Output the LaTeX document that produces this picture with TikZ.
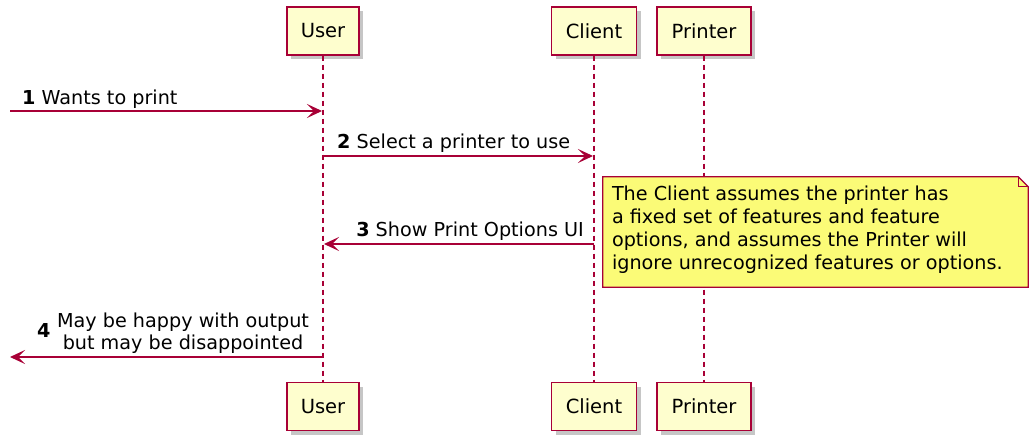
\documentclass[tikz,border=0pt]{standalone}
\usepackage{fontspec}
\setmainfont{DejaVu Sans}
\usetikzlibrary{arrows.meta,shadows}
\definecolor{pborder}{HTML}{A80036}
\definecolor{pfill}{HTML}{FEFECE}
\definecolor{nfill}{HTML}{FBFB77}
\definecolor{shadowc}{HTML}{B8B8B8}
\begin{document}
\begin{tikzpicture}[x=1pt,y=-1pt,
  participant/.style={draw=pborder, fill=pfill, line width=1.3pt, minimum height=48pt, inner sep=0pt,
     font=\fontsize{19.5}{22}\selectfont,
     drop shadow={shadow xshift=4pt, shadow yshift=-4pt, fill=shadowc, opacity=0.8}},
  lifeline/.style={draw=pborder, line width=1.1pt, dash pattern=on 5pt off 4pt},
  msg/.style={draw=pborder, line width=1.2pt, -{Stealth[length=15pt,width=14pt,inset=7pt]}},
  msglabel/.style={inner sep=0pt, font=\fontsize{19.2}{22}\selectfont},
  notetext/.style={inner sep=0pt, align=left, font=\fontsize{19.2}{23}\selectfont}
]
\useasboundingbox (0,0) rectangle (1030,436);
\fill[white] (0,0) rectangle (1030,436);

% participants
\node[participant, minimum width=72pt] (uT) at (323,31) {User};
\node[participant, minimum width=85pt] (cT) at (594,31) {Client};
\node[participant, minimum width=94pt] (pT) at (704,31) {Printer};
\node[participant, minimum width=72pt] (uB) at (323,406.5) {User};
\node[participant, minimum width=85pt] (cB) at (594,406.5) {Client};
\node[participant, minimum width=94pt] (pB) at (704,406.5) {Printer};

% lifelines
\draw[lifeline] (uT) -- (uB);
\draw[lifeline] (cT) -- (cB);
\draw[lifeline] (pT) -- (pB);

% message coordinates
\coordinate (m1) at (10,111);
\coordinate (m2) at (0,156);
\coordinate (m3) at (0,244);
\coordinate (m4) at (10,357);

% message 1
\draw[msg] (m1) -- ([xshift=-1pt]uT.center |- m1);
\node[msglabel, anchor=base west] (l1) at (22,104) {\textbf{1} Wants to print};

% message 2
\draw[msg] (uT.center |- m2) -- ([xshift=-1pt]cT.center |- m2);
\node[msglabel, anchor=base west] (l2) at (337,148) {\textbf{2} Select a printer to use};

% message 3
\draw[msg] (cT.center |- m3) -- ([xshift=1pt]uT.center |- m3);
\node[msglabel, anchor=base east] (l3) at (584,236) {\textbf{3} Show Print Options UI};

% message 4
\node[msglabel, anchor=base, align=center] (l4) at (183,349) {May be happy with output\\but may be disappointed};
\node[msglabel, anchor=base west] (n4) at (37,337) {\textbf{4}};
\draw[msg] (uT.center |- m4) -- (m4);

% note
\node[minimum width=425pt, minimum height=110pt, inner sep=0pt] (note) at (815.5,232) {};
\fill[shadowc, opacity=0.8, shift={(4,4)}]
  (note.north west) -- ([xshift=-10pt]note.north east) -- ([yshift=-10pt]note.north east)
  -- (note.south east) -- (note.south west) -- cycle;
\filldraw[draw=pborder, fill=nfill, line width=1.2pt]
  (note.north west) -- ([xshift=-10pt]note.north east) -- ([yshift=-10pt]note.north east)
  -- (note.south east) -- (note.south west) -- cycle;
\draw[draw=pborder, line width=1.2pt]
  ([xshift=-10pt]note.north east) -- ([xshift=-10pt,yshift=-10pt]note.north east) -- ([yshift=-10pt]note.north east);
\node[notetext, anchor=base west] (nt) at ([xshift=9pt]note.west |- 0,269)
  {The Client assumes the printer has\\a fixed set of features and feature\\options, and assumes the Printer will\\ignore unrecognized features or options.};
\end{tikzpicture}
\end{document}
